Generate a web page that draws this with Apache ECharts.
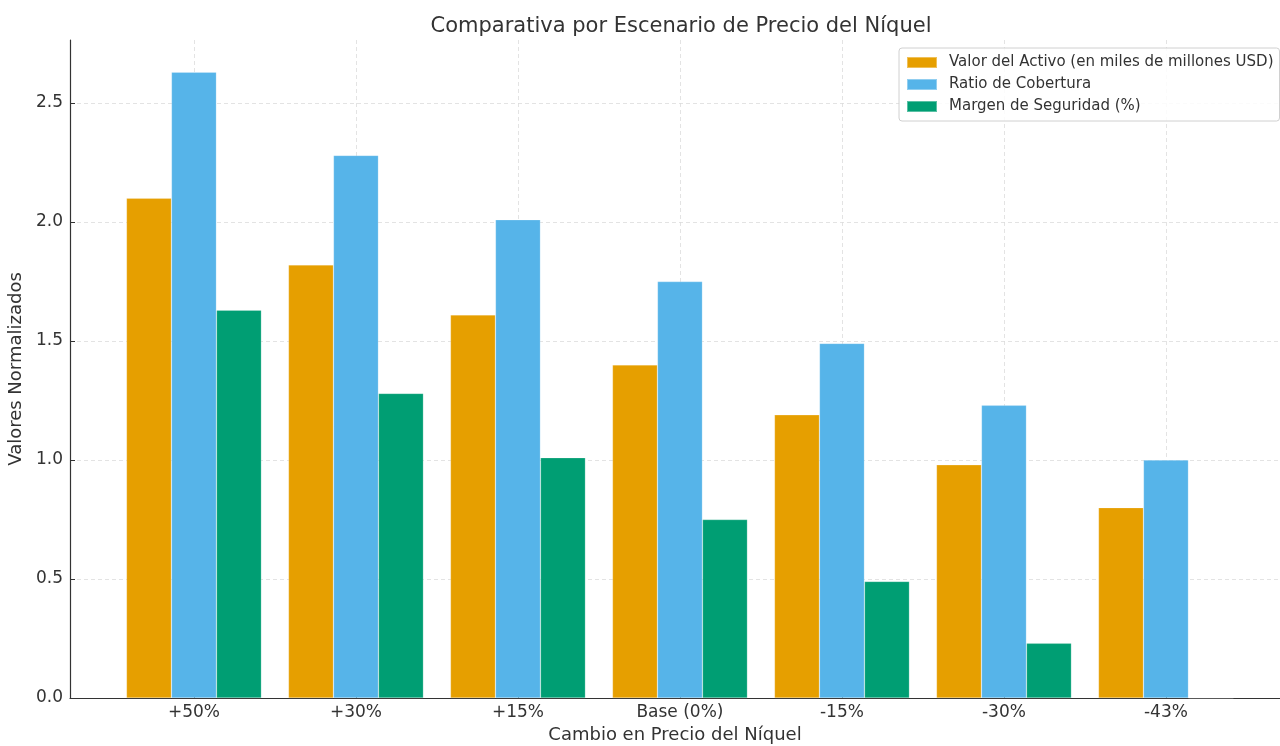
<!DOCTYPE html>
<html>
<head>
<meta charset="utf-8">
<title>Comparativa por Escenario de Precio del Níquel</title>
<script src="https://cdn.jsdelivr.net/npm/echarts@6/dist/echarts.min.js"></script>
<style>
  html, body { margin: 0; padding: 0; background: #fff; }
  #chart { width: 1280px; height: 746px; }
</style>
</head>
<body>
<div id="chart"></div>
<script>
// Scenarios of nickel price change
const categories = ['+50%', '+30%', '+15%', 'Base (0%)', '-15%', '-30%', '-43%'];

// Normalised values per scenario
const valorActivo = [2.10, 1.82, 1.61, 1.40, 1.19, 0.98, 0.80];
const ratioCobertura = [2.63, 2.28, 2.01, 1.75, 1.49, 1.23, 1.00];
const margenSeguridad = [1.63, 1.28, 1.01, 0.75, 0.49, 0.23, 0.00];

const seriesNames = [
  'Valor del Activo (en miles de millones USD)',
  'Ratio de Cobertura',
  'Margen de Seguridad (%)'
];
const colors = ['#E69F00', '#56B4E9', '#009E73'];

const yTicks = [0, 0.5, 1.0, 1.5, 2.0, 2.5];
const xTicks = categories.map((_, i) => i);

const font = 'DejaVu Sans';
const textColor = '#333333';

const chart = echarts.init(document.getElementById('chart'));

function barSeries(name, values, color) {
  return {
    name: name,
    type: 'bar',
    data: values.map((v, i) => [i, v]),
    barWidth: 45,
    barGap: '0%',
    itemStyle: { color: color, borderColor: 'rgba(255,255,255,0.35)', borderWidth: 0.6 },
    emphasis: { disabled: true }
  };
}

chart.setOption({
  animation: false,
  backgroundColor: '#ffffff',
  title: {
    text: 'Comparativa por Escenario de Precio del Níquel',
    left: 676,
    textAlign: 'center',
    top: 11,
    textStyle: { fontFamily: font, fontSize: 21, fontWeight: 'normal', color: textColor }
  },
  legend: {
    orient: 'vertical',
    left: 899,
    top: 48,
    padding: [7, 6, 7, 7],
    itemWidth: 30,
    itemHeight: 11,
    itemGap: 7,
    backgroundColor: 'rgba(255,255,255,0.85)',
    borderColor: '#d0d0d0',
    borderWidth: 1,
    borderRadius: 3,
    icon: 'rect',
    textStyle: { fontFamily: font, fontSize: 15, lineHeight: 15, color: textColor, padding: [0, 0, 0, 7] },
    data: seriesNames
  },
  grid: { left: 70, right: 0, top: 40, bottom: 48, containLabel: false, outerBoundsMode: 'none' },
  xAxis: {
    type: 'value',
    min: -0.765,
    max: 6.704,
    name: 'Cambio en Precio del Níquel',
    nameLocation: 'middle',
    nameGap: 28,
    nameTextStyle: { fontFamily: font, fontSize: 18, color: textColor },
    axisLine: { show: true, onZero: false, lineStyle: { color: '#333', width: 1.2 } },
    axisTick: { show: true, customValues: xTicks, length: 5, inside: true, lineStyle: { color: '#333' } },
    axisLabel: {
      customValues: xTicks,
      formatter: v => categories[Math.round(v)],
      fontFamily: font, fontSize: 17, color: textColor, margin: 6
    },
    splitLine: { show: true, lineStyle: { color: '#dcdcdc', type: [4, 3], width: 0.8 } }
  },
  yAxis: {
    type: 'value',
    min: 0,
    max: 2.765,
    name: 'Valores Normalizados',
    nameLocation: 'middle',
    nameGap: 41,
    nameRotate: 90,
    nameTextStyle: { fontFamily: font, fontSize: 18, color: textColor },
    axisLine: { show: true, onZero: false, lineStyle: { color: '#333', width: 1.2 } },
    axisTick: { show: true, customValues: yTicks, length: 5, inside: true, lineStyle: { color: '#333' } },
    axisLabel: {
      customValues: yTicks,
      formatter: v => v.toFixed(1),
      fontFamily: font, fontSize: 17, color: textColor, margin: 7
    },
    splitLine: { show: true, lineStyle: { color: '#dcdcdc', type: [4, 3], width: 0.8 } }
  },
  series: [
    barSeries(seriesNames[0], valorActivo, colors[0]),
    barSeries(seriesNames[1], ratioCobertura, colors[1]),
    barSeries(seriesNames[2], margenSeguridad, colors[2])
  ]
});
</script>
</body>
</html>
